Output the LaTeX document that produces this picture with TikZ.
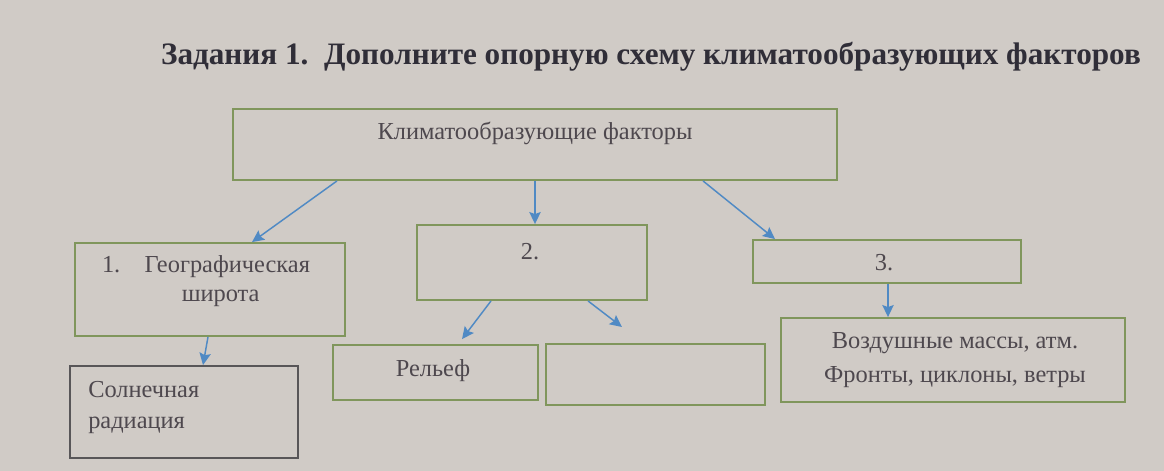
\documentclass[tikz,border=0pt]{standalone}
\usepackage{fontspec}
\setmainfont{Liberation Serif}
\usetikzlibrary{arrows.meta}
\definecolor{paper}{RGB}{208,203,198}
\definecolor{frame}{RGB}{128,150,92}
\definecolor{darkframe}{RGB}{88,86,88}
\definecolor{ink}{RGB}{78,72,78}
\definecolor{titleink}{RGB}{48,46,56}
\definecolor{arrowblue}{RGB}{80,138,196}
\tikzset{
  box/.style={draw=frame, line width=1.4pt, inner sep=0pt},
  darkbox/.style={draw=darkframe, line width=1.4pt, inner sep=0pt},
  lbl/.style={text=ink, font=\fontsize{18.3}{20}\selectfont, inner sep=0pt},
  arr/.style={draw=arrowblue, line width=1.1pt, -{Stealth[length=9pt,width=8.5pt,inset=1.5pt]}},
}
\begin{document}
\begin{tikzpicture}[x=0.75pt,y=-0.75pt]
\fill[paper] (0,0) rectangle (1164,471);
\useasboundingbox (0,0) rectangle (1164,471);
% title
\node[text=titleink, font=\bfseries\fontsize{23.4}{25}\selectfont, inner sep=0pt] (title) at (651,57) {Задания 1.\ \ Дополните опорную схему климатообразующих факторов};
% boxes
\node[box, minimum width=453pt, minimum height=53.25pt] (top) at (535,144.5) {};
\node[lbl] (toptxt) at (535,133) {Климатообразующие факторы};
\node[box, minimum width=202.5pt, minimum height=69.75pt] (b1) at (210,289.5) {};
\node[lbl, align=center] (b1txt) at (206,281) {1.\quad Географическая\\[2pt]\hspace*{22pt}широта};
\node[darkbox, minimum width=171pt, minimum height=69pt] (sol) at (184,412) {};
\node[lbl, anchor=west] (soltxt1) at (88,390) {Солнечная};
\node[lbl, anchor=west] (soltxt2) at (88,425) {радиация};
\node[box, minimum width=172.5pt, minimum height=56.25pt] (b2) at (532,262.5) {};
\node[lbl] (b2txt) at (530,252) {2.};
\node[box, minimum width=201pt, minimum height=32.25pt] (b3) at (887,261.5) {};
\node[lbl] (b3txt) at (884,263) {3.};
\node[box, minimum width=153.75pt, minimum height=41.25pt] (rel) at (435.5,372.5) {};
\node[lbl] (reltxt) at (433,371) {Рельеф};
\node[box, minimum width=164.25pt, minimum height=45.75pt] (empty) at (655.5,374.5) {};
\node[box, minimum width=258pt, minimum height=63pt] (air) at (953,360) {};
\node[lbl] (airtxt1) at (955,343) {Воздушные массы, атм.};
\node[lbl] (airtxt2) at (955,377) {Фронты, циклоны, ветры};
\coordinate (free) at (622,327);
% arrows
\draw[arr] ([xshift=-148.5pt]top.south) -- ([xshift=31.5pt]b1.north);
\draw[arr] (top.south) -- (top.south |- b2.north);
\draw[arr] ([xshift=126pt]top.south) -- ([xshift=-84pt]b3.north);
\draw[arr] ([xshift=-1.5pt]b1.south) -- ([xshift=14.25pt]sol.north);
\draw[arr] ([xshift=-30.75pt]b2.south) -- ([xshift=19.9pt,yshift=3.75pt]rel.north);
\draw[arr] ([xshift=42pt]b2.south) -- (free);
\draw[arr] ([xshift=0.75pt]b3.south) -- ([xshift=-48.75pt]air.north);
\end{tikzpicture}
\end{document}
